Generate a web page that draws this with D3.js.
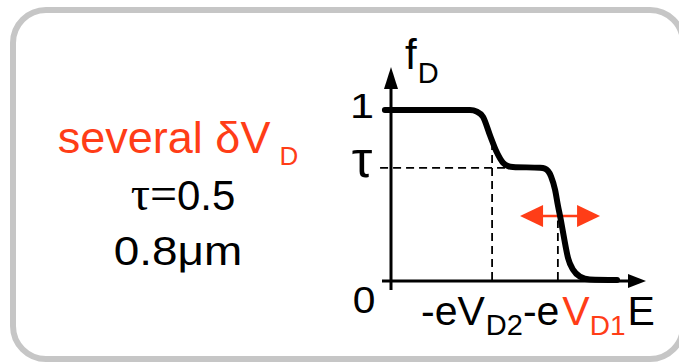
<!DOCTYPE html>
<html>
<head>
<meta charset="utf-8">
<script src="https://cdn.jsdelivr.net/npm/d3@7"></script>
<style>
  html, body { margin: 0; padding: 0; background: #fff; }
  svg { display: block; }
  text { font-family: "Liberation Sans", Arial, sans-serif; }
</style>
</head>
<body>
<svg id="chart" width="679" height="363"></svg>
<script>
// Occupation f_D(E): double-step distribution with a plateau at tau
const energy     = [-0.24, 3.11, 3.39, 3.62, 3.90, 4.17, 4.41, 4.61, 4.80, 5.87, 6.06, 6.30, 6.46, 6.57, 6.69, 6.81, 6.97, 7.17, 7.44, 7.83, 8.90];
const occupation = [1.00, 1.00, 0.99, 0.96, 0.85, 0.75, 0.69, 0.67, 0.665, 0.66, 0.655, 0.61, 0.53, 0.44, 0.35, 0.25, 0.13, 0.06, 0.02, 0.003, 0.00];
const tau = 0.66;
// Step positions -eV_D2 and -eV_D1 and where their guide lines meet the curve
const stepEnergy = [3.98, 6.57];
const stepTop    = [0.79, 0.35];
// Shift arrow for V_D1
const shiftEnergy = [5.08, 8.23];
const shiftLevel  = 0.376;
const yTickLabels = ["0", "τ", "1"];

const red = "#ff3d17";
const svg = d3.select("#chart");

// Rounded frame (right edge runs just past the page)
svg.append("rect")
  .attr("x", 13).attr("y", 10)
  .attr("width", 670).attr("height", 349)
  .attr("rx", 33).attr("ry", 33)
  .attr("fill", "#fff")
  .attr("stroke", "#c6c6c6").attr("stroke-width", 6);

const x = d3.scaleLinear().domain([0, 10]).range([391, 645]);
const y = d3.scaleLinear().domain([0, 1]).range([280, 110]);

// Dashed guides
const dash = "8,5";
svg.append("line")
  .attr("x1", x(-0.43)).attr("x2", x(4.8))
  .attr("y1", y(tau)).attr("y2", y(tau))
  .attr("stroke", "#000").attr("stroke-width", 1.8).attr("stroke-dasharray", dash);
svg.selectAll("line.step").data(stepEnergy).join("line")
  .attr("class", "step")
  .attr("x1", d => x(d)).attr("x2", d => x(d))
  .attr("y1", y(0)).attr("y2", (d, i) => y(stepTop[i]))
  .attr("stroke", "#000").attr("stroke-width", 1.8).attr("stroke-dasharray", dash);

// Axes with arrowheads
const axisY = y(0) + 1;
svg.append("line")
  .attr("x1", x(0)).attr("x2", x(0))
  .attr("y1", axisY + 9).attr("y2", 86)
  .attr("stroke", "#000").attr("stroke-width", 3);
svg.append("path")
  .attr("d", `M${x(0)},67 L${x(0) - 7},89 L${x(0) + 7},89 Z`)
  .attr("fill", "#000");
svg.append("line")
  .attr("x1", 382).attr("x2", x(9.4))
  .attr("y1", axisY).attr("y2", axisY)
  .attr("stroke", "#000").attr("stroke-width", 3);
svg.append("path")
  .attr("d", `M${x(10) + 1},${axisY} L${x(10) - 17},${axisY - 7} L${x(10) - 17},${axisY + 7} Z`)
  .attr("fill", "#000");

// Shift arrow (double headed)
const ay = y(shiftLevel), ax1 = x(shiftEnergy[0]), ax2 = x(shiftEnergy[1]);
svg.append("line")
  .attr("x1", ax1 + 20).attr("x2", ax2 - 20)
  .attr("y1", ay).attr("y2", ay)
  .attr("stroke", red).attr("stroke-width", 2.5);
svg.append("path")
  .attr("d", `M${ax1},${ay} L${ax1 + 23},${ay - 11} L${ax1 + 23},${ay + 11} Z`)
  .attr("fill", red);
svg.append("path")
  .attr("d", `M${ax2},${ay} L${ax2 - 23},${ay - 11} L${ax2 - 23},${ay + 11} Z`)
  .attr("fill", red);

// Distribution curve
const pts = energy.map((e, i) => [e, occupation[i]]);
svg.append("path")
  .datum(pts)
  .attr("d", d3.line().x(d => x(d[0])).y(d => y(d[1])).curve(d3.curveMonotoneX))
  .attr("fill", "none").attr("stroke", "#000")
  .attr("stroke-width", 6).attr("stroke-linecap", "round").attr("stroke-linejoin", "round");

// Y tick labels
const tickVals = [0, tau, 1];
svg.append("text").text(yTickLabels[2])
  .attr("transform", `translate(374,${y(tickVals[2]) + 8}) scale(1.2,1)`)
  .attr("text-anchor", "end").attr("font-size", 36);
svg.append("text").text(yTickLabels[1])
  .attr("x", 362).attr("y", y(tickVals[1]) + 9)
  .attr("text-anchor", "middle")
  .attr("font-family", "Liberation Serif, serif").attr("font-size", 52);
svg.append("text").text(yTickLabels[0])
  .attr("transform", `translate(364,${y(tickVals[0]) + 33}) scale(1.1,1)`)
  .attr("text-anchor", "middle").attr("font-size", 37);

// Axis titles
const fd = svg.append("text").attr("x", 405).attr("y", 69).attr("font-size", 42);
fd.append("tspan").text("f");
fd.append("tspan").text("D").attr("font-size", 29).attr("dx", 1).attr("dy", 14);

const xl = svg.append("text").attr("x", 421).attr("y", 325).attr("font-size", 41);
xl.append("tspan").text("-eV");
xl.append("tspan").text("D2").attr("font-size", 29).attr("dx", 1).attr("dy", 10);
xl.append("tspan").text("-e").attr("dy", -10);
xl.append("tspan").text("V").attr("fill", red).attr("dx", 3);
xl.append("tspan").text("D1").attr("fill", red).attr("font-size", 28).attr("dy", 10);
xl.append("tspan").text("E").attr("dx", 2).attr("dy", -10);

// Parameter block
const cx = 178;
const l1 = svg.append("text").attr("x", cx).attr("y", 153)
  .attr("text-anchor", "middle").attr("font-size", 45).attr("fill", red);
l1.append("tspan").text("several δV");
l1.append("tspan").text("D").attr("font-size", 26).attr("dx", 9).attr("dy", 12);

const l2 = svg.append("text")
  .attr("x", cx + 5).attr("y", 210)
  .attr("text-anchor", "middle").attr("font-size", 42);
l2.append("tspan").text("τ=").attr("font-family", "Liberation Serif, serif").attr("font-size", 48);
l2.append("tspan").text("0.5");

svg.append("text")
  .attr("transform", `translate(${cx},265) scale(1.12,1)`)
  .attr("text-anchor", "middle").attr("font-size", 41)
  .text("0.8μm");
</script>
</body>
</html>
